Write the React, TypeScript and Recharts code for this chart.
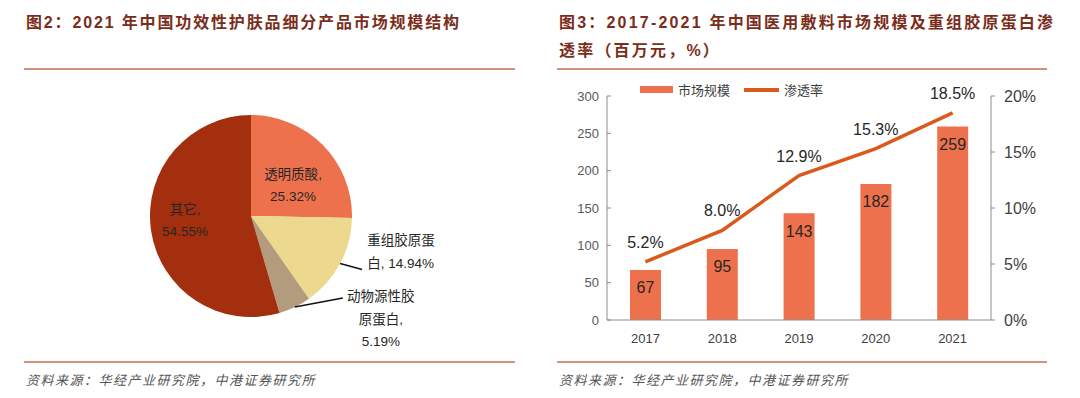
import React from 'react';
import {
  PieChart, Pie, Cell, ComposedChart, Bar, Line, XAxis, YAxis, Legend, LabelList,
} from 'recharts';

// 图2 饼图数据
const pieNames = ['透明质酸', '重组胶原蛋白', '动物源性胶原蛋白', '其它'];
const pieShares = [25.32, 14.94, 5.19, 54.55];

// 图3 柱线图数据
const years = ['2017', '2018', '2019', '2020', '2021'];
const marketSize = [67, 95, 143, 182, 259];
const penetration = [5.2, 8.0, 12.9, 15.3, 18.5];
const leftTicks = [0, 50, 100, 150, 200, 250, 300];
const rightTicks = [0, 5, 10, 15, 20];

const FONT = '"Liberation Sans", "Noto Sans CJK SC", sans-serif';
const TITLE_COLOR = '#7B2D1B';
const RULE_COLOR = '#D3927F';
const AXIS_COLOR = '#8C8C8C';
const BAR_COLOR = '#EE714D';
const LINE_COLOR = '#DA5A1E';
const pieColors = ['#EE714D', '#EDD98D', '#B29C7D', '#A32F0F'];

const pieData = pieNames.map((name, i) => ({ name, value: pieShares[i] }));
const chartData = years.map((year, i) => ({ year, size: marketSize[i], rate: penetration[i] }));

const PieLabel = (props: any) => {
  const { cx, cy, midAngle, outerRadius, index } = props;
  const rad = (-midAngle * Math.PI) / 180;
  const at = (r: number) => [cx + r * Math.cos(rad), cy + r * Math.sin(rad)];
  const name = pieNames[index];
  const pct = pieShares[index].toFixed(2) + '%';
  const txt = { fontSize: 13.5, fill: '#262626', fontFamily: FONT } as const;

  // 扇区内部标签
  if (index === 0 || index === 3) {
    const [x0, y0] = at(outerRadius * (index === 0 ? 0.52 : 0.65));
    const x = x0 + (index === 0 ? 4.5 : -1);
    const y = y0 + (index === 0 ? 6 : -5);
    return (
      <text textAnchor="middle" dominantBaseline="central" style={txt}>
        <tspan x={x} y={y - 11}>{name},</tspan>
        <tspan x={x} y={y + 11}>{pct}</tspan>
      </text>
    );
  }

  // 外部标签 + 引导线
  const [px, py] = at(outerRadius);
  if (index === 1) {
    const ex = px + 22, ey = py + 6;
    return (
      <g>
        <polyline points={`${px},${py} ${ex},${ey}`} stroke="#111" strokeWidth={1.4} fill="none" />
        <text textAnchor="start" dominantBaseline="central" style={txt}>
          <tspan x={ex + 5} y={ey - 29}>{name.slice(0, 5)}</tspan>
          <tspan x={ex + 5} y={ey - 6}>{name.slice(5)}, {pct}</tspan>
        </text>
      </g>
    );
  }
  const ex = px + 48, ey = py - 9;
  return (
    <g>
      <polyline points={`${px},${py} ${ex},${ey}`} stroke="#111" strokeWidth={1.4} fill="none" />
      <text textAnchor="middle" dominantBaseline="central" style={txt}>
        <tspan x={ex + 38} y={ey - 2}>{name.slice(0, 5)}</tspan>
        <tspan x={ex + 38} y={ey + 21}>{name.slice(5)},</tspan>
        <tspan x={ex + 38} y={ey + 43}>{pct}</tspan>
      </text>
    </g>
  );
};

// 左轴：刻度线朝内
const LeftTick = (props: any) => {
  const { x, y, payload } = props;
  return (
    <g>
      <line x1={x + 8} y1={y} x2={x + 12} y2={y} stroke={AXIS_COLOR} strokeWidth={1} />
      <text x={x} y={y} textAnchor="end" dominantBaseline="central" fontSize={13} fill="#595959" fontFamily={FONT}>
        {payload.value}
      </text>
    </g>
  );
};

const renderLegend = (props: any) => {
  const { payload } = props;
  return (
    <div style={{ display: 'flex', alignItems: 'center', fontFamily: FONT, fontSize: 13, color: '#404040' }}>
      {payload.map((p: any, i: number) => (
        <div key={i} style={{ display: 'flex', alignItems: 'center', marginRight: 14 }}>
          <span style={{ display: 'inline-block', width: p.type === 'rect' ? 33 : 35, height: p.type === 'rect' ? 7 : 4, background: p.color, marginRight: 5 }} />
          <span>{p.value}</span>
        </div>
      ))}
    </div>
  );
};

const Panel: React.FC<{ left: number; width: number; title: string[]; spacing: number; children: React.ReactNode }> = ({ left, width, title, spacing, children }) => (
  <div style={{ position: 'absolute', left, top: 0, width, height: 398 }}>
    {title.map((t, i) => (
      <div key={i} style={{ position: 'absolute', left: 2, top: 9 + i * 28, whiteSpace: 'nowrap', fontFamily: FONT, fontWeight: 700, fontSize: 16, letterSpacing: spacing, color: TITLE_COLOR }}>
        {t}
      </div>
    ))}
    <div style={{ position: 'absolute', left: 0, top: 68, width, height: 2, background: RULE_COLOR }} />
    {children}
    <div style={{ position: 'absolute', left: 0, top: 361, width, height: 2, background: RULE_COLOR }} />
    <div style={{ position: 'absolute', left: 2, top: 370, whiteSpace: 'nowrap', fontFamily: '"DejaVu Serif", "Noto Sans CJK SC", serif', fontStyle: 'italic', fontSize: 13, letterSpacing: 1.5, color: '#555' }}>
      资料来源：华经产业研究院，中港证券研究所
    </div>
  </div>
);

export default function App() {
  return (
    <div style={{ position: 'fixed', left: 0, top: 0, width: 1080, height: 398, background: '#fff', overflow: 'hidden' }}>
      <Panel left={24} width={491} spacing={1.85} title={['图2：2021 年中国功效性护肤品细分产品市场规模结构']}>
        <div style={{ position: 'absolute', left: -24, top: 70 }}>
          <PieChart width={540} height={290}>
            <Pie
              data={pieData}
              dataKey="value"
              nameKey="name"
              cx={246}
              cy={141}
              outerRadius={101}
              startAngle={90}
              endAngle={-270}
              label={PieLabel}
              labelLine={false}
              isAnimationActive={false}
            >
              {pieData.map((d, i) => (
                <Cell key={d.name} fill={pieColors[i]} stroke="none" />
              ))}
            </Pie>
          </PieChart>
        </div>
      </Panel>

      <Panel left={557} width={490} spacing={2.2} title={['图3：2017-2021 年中国医用敷料市场规模及重组胶原蛋白渗', '透率（百万元，%）']}>
        <div style={{ position: 'absolute', left: -17, top: 70 }}>
          <ComposedChart width={540} height={290} data={chartData} margin={{ top: 26, right: 0, left: 0, bottom: 10 }}>
            <Legend
              layout="horizontal"
              verticalAlign="middle"
              align="center"
              content={renderLegend}
              wrapperStyle={{ top: 10, left: 100, width: 300 }}
            />
            <XAxis
              dataKey="year"
              height={30}
              axisLine={{ stroke: AXIS_COLOR }}
              tickLine={false}
              tick={{ fontSize: 13, fill: '#404040', fontFamily: FONT }}
              tickMargin={8}
            />
            <YAxis
              yAxisId="left"
              domain={[0, 300]}
              ticks={leftTicks}
              width={67}
              axisLine={{ stroke: AXIS_COLOR }}
              tickLine={false}
              tickSize={0}
              tickMargin={8}
              tick={LeftTick}
            />
            <YAxis
              yAxisId="right"
              orientation="right"
              domain={[0, 20]}
              ticks={rightTicks}
              width={89}
              axisLine={{ stroke: AXIS_COLOR }}
              tickLine={{ stroke: AXIS_COLOR }}
              tickSize={4}
              tickMargin={9}
              tickFormatter={(v: number) => `${v}%`}
              tick={{ fontSize: 16, fill: '#404040', fontFamily: FONT }}
            />
            <Bar yAxisId="left" dataKey="size" name="市场规模" fill={BAR_COLOR} barSize={31} isAnimationActive={false}>
              <LabelList dataKey="size" position="insideTop" offset={12} style={{ fontSize: 16, fill: '#262626', fontFamily: FONT }} />
            </Bar>
            <Line
              yAxisId="right"
              dataKey="rate"
              name="渗透率"
              type="linear"
              stroke={LINE_COLOR}
              strokeWidth={3.5}
              dot={false}
              activeDot={false}
              legendType="line"
              isAnimationActive={false}
            >
              <LabelList
                dataKey="rate"
                position="top"
                offset={14}
                formatter={(v: number) => `${v.toFixed(1)}%`}
                style={{ fontSize: 16, fill: '#262626', fontFamily: FONT }}
              />
            </Line>
          </ComposedChart>
        </div>
      </Panel>
    </div>
  );
}
